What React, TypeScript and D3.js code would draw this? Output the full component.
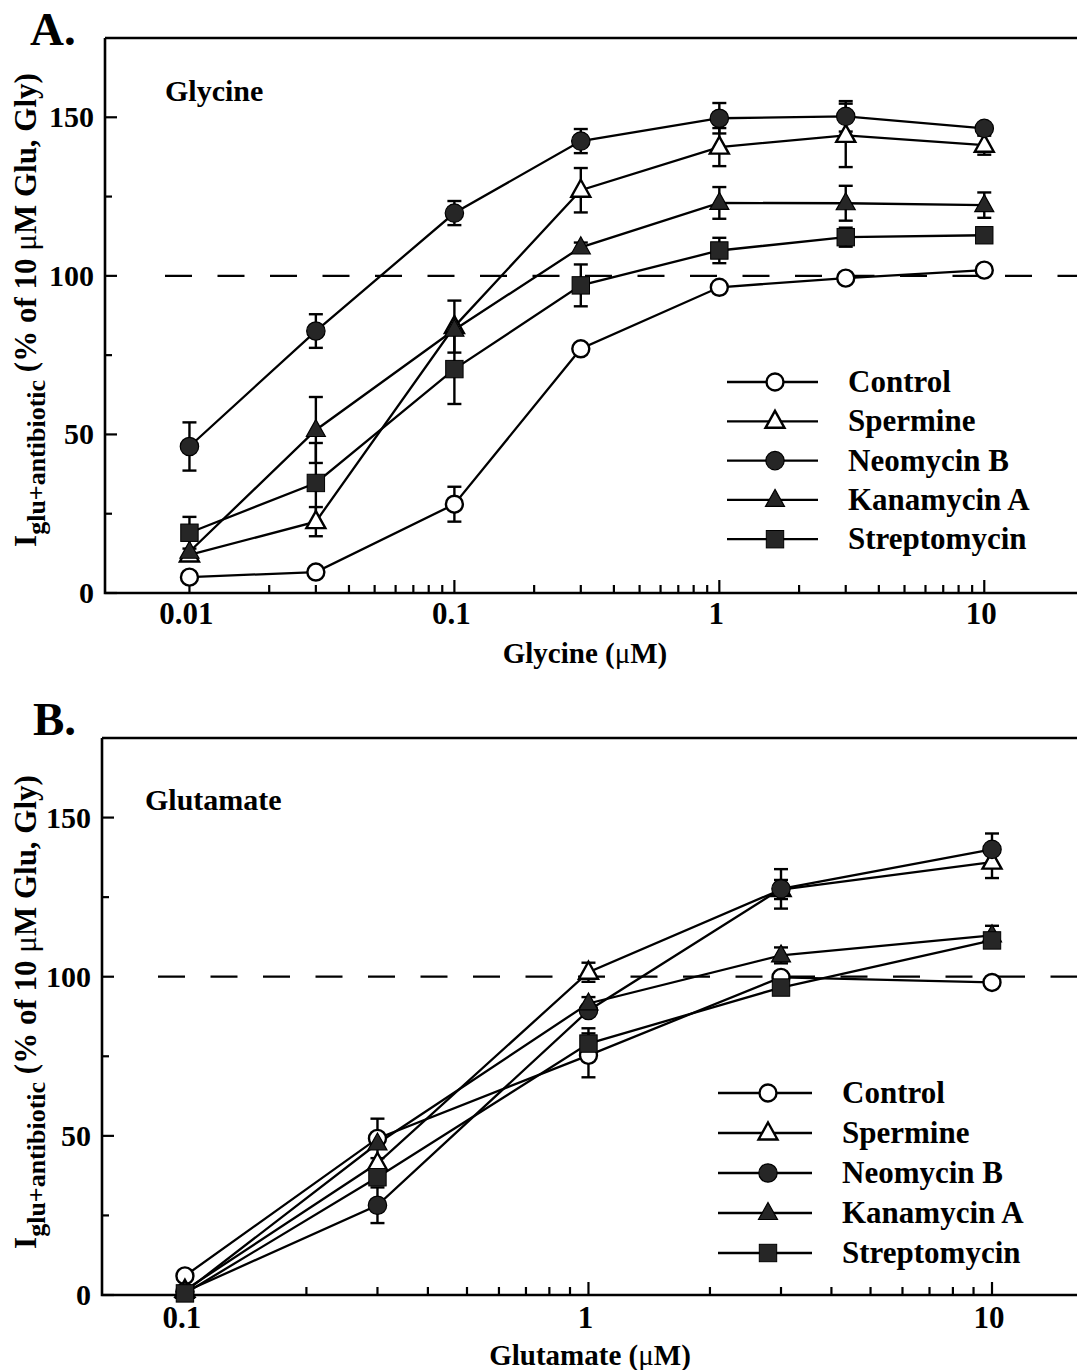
import React from 'react';
import * as d3 from 'd3';

// Series shared by both panels
const seriesNames = ['Control', 'Spermine', 'Neomycin B', 'Kanamycin A', 'Streptomycin'];
const seriesMarkers = ['circleOpen', 'triOpen', 'circleFilled', 'triFilled', 'square'];

// Panel A: glycine concentration-response (uM), % of 10 uM Glu, Gly
const glyConc = [0.01, 0.03, 0.1, 0.3, 1, 3, 10];
const glyControl = [5, 6.6, 28, 77, 96.4, 99.3, 101.8];
const glyControlErr = [0, 0, 5.5, 1.5, 0, 0, 0];
const glySpermine = [12, 22.5, 84, 127, 140.6, 144.3, 141.2];
const glySpermineErr = [0, 4.6, 8.2, 7, 6, 10, 3];
const glyNeomycin = [46.2, 82.6, 119.8, 142.5, 149.7, 150.3, 146.5];
const glyNeomycinErr = [7.6, 5.3, 3.8, 3.8, 4.8, 4.8, 0];
const glyKanamycin = [13, 51.4, 83, 109, 123, 122.9, 122.3];
const glyKanamycinErr = [0, 10.4, 0, 1.5, 5, 5.5, 4];
const glyStreptomycin = [19, 34.7, 70.6, 97, 108, 112.2, 112.8];
const glyStreptomycinErr = [5, 12.6, 11, 6.6, 4, 3, 0];

// Panel B: glutamate concentration-response (uM)
const gluConc = [0.1, 0.3, 1, 3, 10];
const gluControl = [6, 49.2, 75.3, 99.8, 98.2];
const gluControlErr = [0, 6.2, 6.9, 0, 0];
const gluSpermine = [1.5, 41.4, 101.4, 127.4, 136];
const gluSpermineErr = [0, 0, 3, 3, 5];
const gluNeomycin = [1, 28.2, 89.4, 127.6, 140];
const gluNeomycinErr = [0, 5.6, 0, 6.2, 5];
const gluKanamycin = [1, 47.6, 91.6, 106.7, 113];
const gluKanamycinErr = [0, 0, 2, 2.5, 3];
const gluStreptomycin = [0.5, 37, 79, 96.6, 111.4];
const gluStreptomycinErr = [0, 0, 4.8, 0, 0];

// Axis ticks
const yMajorTicks = [0, 50, 100, 150];
const yMinorTicks = [25, 75, 125];
const glyXLabels = [0.01, 0.1, 1, 10];
const gluXLabels = [0.1, 1, 10];
const yDomain = [0, 175];
const refLevel = 100;

const FONT = '"Liberation Serif", "Times New Roman", Times, serif';
const DARK = '#262626';

type Panel = {
  letter: string;
  agonist: string;
  axisTitle: string;
  conc: number[];
  values: number[][];
  errors: number[][];
  xDomain: [number, number];
  xLabels: number[];
  left: number;
  right: number;
  top: number;
  bottom: number;
  letterPos: [number, number];
  agonistPos: [number, number];
  xLabelBaseline: number;
  titleBaseline: number;
  titleX: number;
  dashStart: number;
  legendX: [number, number, number];
  legendTextX: number;
  legendY0: number;
  legendStep: number;
  yLabelCenter: number;
};

const panels: Panel[] = [
  {
    letter: 'A.',
    agonist: 'Glycine',
    axisTitle: 'Glycine',
    conc: glyConc,
    values: [glyControl, glySpermine, glyNeomycin, glyKanamycin, glyStreptomycin],
    errors: [glyControlErr, glySpermineErr, glyNeomycinErr, glyKanamycinErr, glyStreptomycinErr],
    xDomain: [0.0048, 24],
    xLabels: glyXLabels,
    left: 105,
    right: 1085,
    top: 38,
    bottom: 593,
    letterPos: [30, 45],
    agonistPos: [165, 101],
    xLabelBaseline: 624,
    titleBaseline: 663,
    titleX: 585,
    dashStart: 165,
    legendX: [727, 775, 818],
    legendTextX: 848,
    legendY0: 382,
    legendStep: 39.3,
    yLabelCenter: 310,
  },
  {
    letter: 'B.',
    agonist: 'Glutamate',
    axisTitle: 'Glutamate',
    conc: gluConc,
    values: [gluControl, gluSpermine, gluNeomycin, gluKanamycin, gluStreptomycin],
    errors: [gluControlErr, gluSpermineErr, gluNeomycinErr, gluKanamycinErr, gluStreptomycinErr],
    xDomain: [0.0623, 17],
    xLabels: gluXLabels,
    left: 102,
    right: 1085,
    top: 738,
    bottom: 1295,
    letterPos: [33, 735],
    agonistPos: [145, 810],
    xLabelBaseline: 1328,
    titleBaseline: 1365,
    titleX: 590,
    dashStart: 158,
    legendX: [718, 768, 812],
    legendTextX: 842,
    legendY0: 1093,
    legendStep: 40,
    yLabelCenter: 1012,
  },
];

function Marker({ type, cx, cy }: { type: string; cx: number; cy: number }) {
  if (type === 'circleOpen')
    return <circle cx={cx} cy={cy} r={8.5} fill="#fff" stroke="#000" strokeWidth={2.4} />;
  if (type === 'circleFilled')
    return <circle cx={cx} cy={cy} r={9.2} fill={DARK} stroke="#000" strokeWidth={1.2} />;
  if (type === 'square')
    return <rect x={cx - 8.7} y={cy - 8.7} width={17.4} height={17.4} fill={DARK} stroke="#000" strokeWidth={1} />;
  const tri = `M${cx},${cy - 10.5}L${cx + 9.5},${cy + 6.5}L${cx - 9.5},${cy + 6.5}Z`;
  if (type === 'triOpen')
    return <path d={tri} fill="#fff" stroke="#000" strokeWidth={2.4} strokeLinejoin="miter" />;
  return <path d={tri} fill={DARK} stroke="#000" strokeWidth={1.2} />;
}

function logTicks(lo: number, hi: number) {
  const out: { v: number; major: boolean }[] = [];
  for (let k = Math.round(Math.log10(lo)); k <= Math.round(Math.log10(hi)); k++) {
    for (let m = 1; m <= 9; m++) {
      const v = m * Math.pow(10, k);
      if (v >= lo * 0.999 && v <= hi * 1.001) out.push({ v, major: m === 1 });
    }
  }
  return out;
}

function ChartPanel({ p }: { p: Panel }) {
  const x = d3.scaleLog().domain(p.xDomain).range([p.left, p.right]);
  const y = d3.scaleLinear().domain(yDomain).range([p.bottom, p.top]);
  const line = d3
    .line<[number, number]>()
    .x((d) => x(d[0]))
    .y((d) => y(d[1]));
  const xt = logTicks(p.xLabels[0], p.xLabels[p.xLabels.length - 1]);

  return (
    <g>
      {/* reference level */}
      <line
        x1={p.dashStart}
        x2={1077}
        y1={y(refLevel)}
        y2={y(refLevel)}
        stroke="#000"
        strokeWidth={2.2}
        strokeDasharray="27 25.5"
      />
      {/* frame */}
      <path
        d={`M${p.left},${p.top}H${p.right}M${p.left},${p.top}V${p.bottom}H${p.right}`}
        fill="none"
        stroke="#000"
        strokeWidth={2.6}
      />
      {/* y ticks */}
      {yMajorTicks.map((v) => (
        <line key={'ym' + v} x1={p.left} x2={p.left + 12} y1={y(v)} y2={y(v)} stroke="#000" strokeWidth={2.2} />
      ))}
      {yMinorTicks.map((v) => (
        <line key={'yn' + v} x1={p.left} x2={p.left + 7} y1={y(v)} y2={y(v)} stroke="#000" strokeWidth={2.2} />
      ))}
      {yMajorTicks.map((v) => (
        <text
          key={'yl' + v}
          x={p.left - 11}
          y={y(v) + 10}
          textAnchor="end"
          fontFamily={FONT}
          fontWeight="bold"
          fontSize={30}
        >
          {v}
        </text>
      ))}
      {/* x ticks */}
      {xt.map((t, i) => (
        <line
          key={'xt' + i}
          x1={x(t.v)}
          x2={x(t.v)}
          y1={p.bottom}
          y2={p.bottom - (t.major ? 13 : 8)}
          stroke="#000"
          strokeWidth={2.2}
        />
      ))}
      {p.xLabels.map((v) => (
        <text
          key={'xl' + v}
          x={x(v) - 3}
          y={p.xLabelBaseline}
          textAnchor="middle"
          fontFamily={FONT}
          fontWeight="bold"
          fontSize={31}
        >
          {String(v)}
        </text>
      ))}
      {/* x axis title */}
      <text x={p.titleX} y={p.titleBaseline} textAnchor="middle" fontFamily={FONT} fontWeight="bold" fontSize={29}>
        {p.axisTitle + ' ('}
        <tspan fontWeight="normal">μ</tspan>
        {'M)'}
      </text>
      {/* y axis title */}
      <text
        transform={`translate(36,${p.yLabelCenter}) rotate(-90)`}
        textAnchor="middle"
        fontFamily={FONT}
        fontWeight="bold"
        fontSize={31}
      >
        I
        <tspan fontSize={26} dy={9}>
          glu+antibiotic
        </tspan>
        <tspan dy={-9}>{' (% of 10 '}</tspan>
        <tspan fontWeight="normal">μ</tspan>
        <tspan>{'M Glu, Gly)'}</tspan>
      </text>
      {/* panel letter and agonist */}
      <text x={p.letterPos[0]} y={p.letterPos[1]} fontFamily={FONT} fontWeight="bold" fontSize={47}>
        {p.letter}
      </text>
      <text x={p.agonistPos[0]} y={p.agonistPos[1]} fontFamily={FONT} fontWeight="bold" fontSize={30}>
        {p.agonist}
      </text>
      {/* series lines */}
      {p.values.map((vals, si) => (
        <path
          key={'ln' + si}
          d={line(vals.map((v, i) => [p.conc[i], v] as [number, number])) || ''}
          fill="none"
          stroke="#000"
          strokeWidth={2.3}
        />
      ))}
      {/* error bars */}
      {p.values.map((vals, si) =>
        vals.map((v, i) => {
          const e = p.errors[si][i];
          if (!e) return null;
          const cx = x(p.conc[i]);
          const y1 = y(v - e);
          const y2 = y(v + e);
          return (
            <g key={'eb' + si + '-' + i} stroke="#000" strokeWidth={2.4}>
              <line x1={cx} x2={cx} y1={y1} y2={y2} />
              <line x1={cx - 7} x2={cx + 7} y1={y1} y2={y1} />
              <line x1={cx - 7} x2={cx + 7} y1={y2} y2={y2} />
            </g>
          );
        })
      )}
      {/* markers */}
      {p.values.map((vals, si) =>
        vals.map((v, i) => (
          <Marker key={'mk' + si + '-' + i} type={seriesMarkers[si]} cx={x(p.conc[i])} cy={y(v)} />
        ))
      )}
      {/* legend */}
      {seriesNames.map((name, si) => {
        const ly = p.legendY0 + si * p.legendStep;
        return (
          <g key={'lg' + si}>
            <line x1={p.legendX[0]} x2={p.legendX[2]} y1={ly} y2={ly} stroke="#000" strokeWidth={2.3} />
            <Marker type={seriesMarkers[si]} cx={p.legendX[1]} cy={ly} />
            <text x={p.legendTextX} y={ly + 10} fontFamily={FONT} fontWeight="bold" fontSize={31}>
              {name}
            </text>
          </g>
        );
      })}
    </g>
  );
}

export default function App() {
  return (
    <svg
      width={1077}
      height={1370}
      viewBox="0 0 1077 1370"
      style={{ position: 'absolute', left: 0, top: 0, background: '#fff', display: 'block' }}
    >
      <rect x={0} y={0} width={1077} height={1370} fill="#fff" />
      {panels.map((p) => (
        <ChartPanel key={p.letter} p={p} />
      ))}
    </svg>
  );
}
